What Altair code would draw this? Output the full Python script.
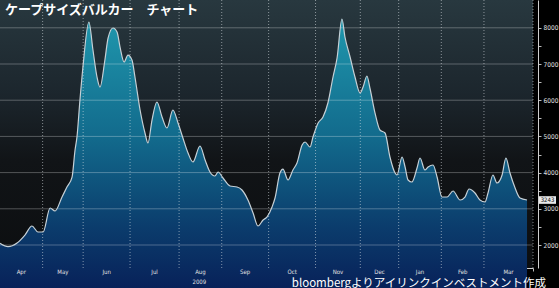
import altair as alt
import pandas as pd

# ---- data (trading-day index, value) ----
days = [0, 3.75, 8.0, 11.7, 15.0, 17.8, 20.2, 23.5, 25.8, 29.1, 31.4, 33.8, 35.2, 36.1,
        37.5, 38.9, 41.7, 43.6, 45.5, 46.9, 49.2, 50.7, 53.0, 54.9, 56.3, 58.2, 60.0,
        61.9, 63.3, 65.7, 68.0, 69.4, 71.3, 73.6, 76.0, 78.3, 81.1, 83.5, 85.8, 88.2,
        90.5, 93.8, 96.2, 98.5, 100.8, 102.3, 104.6, 107.9, 111.2, 113.5, 116.3, 118.7,
        121.0, 123.4, 125.2, 127.6, 129.0, 131.3, 132.7, 135.1, 137.4, 139.3, 141.7,
        143.1, 145.4, 146.8, 149.2, 151.5, 153.8, 156.2, 158.1, 160.4, 161.8, 164.2,
        166.5, 168.9, 170.3, 172.1, 173.5, 175.9, 178.2, 180.6, 182.9, 185.3, 186.2,
        188.6, 190.0, 191.4, 193.2, 195.6, 197.0, 199.3, 200.8, 203.1, 205.0, 207.3,
        209.7, 212.5, 215.8, 218.1, 220.0, 222.8, 225.1, 227.5, 228.9, 231.2, 233.1,
        235.5, 237.3, 239.2, 241.6, 243.9, 247.2]
values = [2047, 1953, 2055, 2276, 2525, 2359, 2359, 3022, 2939, 3326, 3602, 3878, 4624, 4983,
          6005, 6917, 8160, 7387, 6641, 6364, 7110, 7718, 7994, 7884, 7469, 7055, 7248,
          7110, 6641, 5729, 5094, 4818, 5453, 5950, 5536, 5232, 5729, 5370, 4956, 4541,
          4293, 4735, 4348, 4017, 3906, 4017, 3851, 3630, 3602, 3519, 3243, 2884,
          2525, 2691, 2773, 3050, 3298, 3989, 4099, 3796, 4072, 4265, 4762,
          4845, 4707, 4983, 5370, 5536, 5923, 6641, 7166, 8243, 7746, 7193,
          6641, 6199, 6364, 6668, 6337, 5646, 5177, 5094, 4431, 3989, 3934,
          4431, 4155, 3796, 3740, 4127, 4403, 4072, 4155, 4210, 3878, 3326,
          3326, 3492, 3243, 3326, 3547, 3436, 3243, 3188, 3436, 3934, 3713,
          3934, 4403, 3989, 3575, 3298, 3243]

months = ["Apr", "May", "Jun", "Jul", "Aug", "Sep", "Oct", "Nov", "Dec", "Jan", "Feb", "Mar"]
month_starts = [0, 20, 39, 61, 84, 104, 126, 148, 169, 187, 207, 227, 250]
y_ticks = [2000, 2500, 3000, 3500, 4000, 4500, 5000, 5500, 6000, 6500, 7000, 7500, 8000]
y_grid = [2000, 3000, 4000, 5000, 6000, 7000, 8000]
year_label = "2009"
title_text = "ケープサイズバルカー　チャート"
source_text = "bloombergよりアイリンクインベストメント作成"
last_value = values[-1]

W, H = 533, 268
X_DOMAIN = [0, 250]
Y_DOMAIN = [1365, 8768]

df = pd.DataFrame({"d": days, "v": values})
mdf = pd.DataFrame({"d": [(month_starts[i] + month_starts[i + 1]) / 2 for i in range(len(months))],
                    "m": months})
vdf = pd.DataFrame({"d": month_starts[1:]})
gdf = pd.DataFrame({"v": y_grid})
ydf = pd.DataFrame({"t": [year_label], "d": [month_starts[9] / 2]})
ldf = pd.DataFrame({"v": [last_value], "lab": [str(last_value)]})

LABEL_FONT = "Liberation Sans Narrow, DejaVu Sans Condensed, sans-serif"

xscale = alt.Scale(domain=X_DOMAIN, nice=False, zero=False)
yscale = alt.Scale(domain=Y_DOMAIN, nice=False, zero=False)

x_axis = alt.Axis(values=month_starts, labels=False, title=None, grid=False,
                  tickSize=3, tickColor="#bbbbbb", domainColor="#cfcfcf", domainWidth=1)
y_axis = alt.Axis(orient="right", values=y_ticks, title=None, grid=False, offset=5,
                  labelExpr="datum.value % 1000 === 0 ? datum.label : ''",
                  format="d",
                  tickSize=3, tickColor="#bbbbbb", domainColor="#cfcfcf",
                  labelColor="#e0e0e0", labelFontSize=6.5, labelFont=LABEL_FONT,
                  labelPadding=2)

X = alt.X("d:Q", scale=xscale, axis=x_axis)
Y = alt.Y("v:Q", scale=yscale, axis=y_axis)

bg_grad = alt.Gradient(gradient="linear", x1=0, x2=0, y1=0, y2=1,
                       stops=[alt.GradientStop(color="#28383f", offset=0),
                              alt.GradientStop(color="#1c262d", offset=0.35),
                              alt.GradientStop(color="#111417", offset=0.6),
                              alt.GradientStop(color="#0c0e10", offset=1)])
area_grad = alt.Gradient(gradient="linear", x1=0, x2=0, y1=0, y2=1,
                         stops=[alt.GradientStop(color="#1f97ad", offset=0),
                                alt.GradientStop(color="#126a8c", offset=0.4),
                                alt.GradientStop(color="#0b3c6c", offset=0.7),
                                alt.GradientStop(color="#061450", offset=1)])

bg = alt.Chart(pd.DataFrame({"k": [0]})).mark_rect(fill=bg_grad).encode(
    x=alt.value(0), x2=alt.value(W), y=alt.value(0), y2=alt.value(H))

base = alt.Chart(df)
area = base.mark_area(interpolate="monotone", fill=area_grad).encode(
    x=X, y=Y, y2=alt.value(H))

hgrid = alt.Chart(gdf).mark_rule(color="#ffffff", opacity=0.28, strokeWidth=1).encode(y=Y)
vgrid = alt.Chart(vdf).mark_rule(color="#e0e6ea", opacity=0.55, strokeWidth=1,
                                 strokeDash=[1, 2]).encode(x=X)

line = base.mark_line(interpolate="monotone", color="#c6d0d6", strokeWidth=1.2).encode(
    x=X, y=Y)

mlabels = alt.Chart(mdf).mark_text(color="#e0e0e0", fontSize=6, font=LABEL_FONT,
                                   baseline="middle").encode(
    x=X, y=alt.value(H + 3.5), text="m:N")
ylabel = alt.Chart(ydf).mark_text(color="#e0e0e0", fontSize=6, font=LABEL_FONT,
                                  baseline="middle").encode(
    x=X, y=alt.value(H + 14), text="t:N")

title = alt.Chart(pd.DataFrame({"t": [title_text]})).mark_text(
    color="#ffffff", fontSize=13, fontWeight="bold", font="Noto Sans CJK JP",
    align="left", baseline="middle").encode(
    x=alt.value(5), y=alt.value(10), text="t:N")
source = alt.Chart(pd.DataFrame({"t": [source_text]})).mark_text(
    color="#ffffff", fontSize=11.5, font="Noto Sans CJK JP",
    align="right", baseline="middle").encode(
    x=alt.value(546), y=alt.value(H + 15.5), text="t:N")

lbox = alt.Chart(ldf).mark_point(shape="M-1,-0.45H1V0.45H-1Z", filled=True,
                                 color="#e8e8e8", opacity=1, size=289).encode(
    x=alt.value(547.5), y=Y)
ltext = alt.Chart(ldf).mark_text(color="#111111", fontSize=6, font=LABEL_FONT,
                                 baseline="middle").encode(
    x=alt.value(547.5), y=Y, text="lab:N")

chart = alt.layer(bg, area, hgrid, vgrid, line, mlabels, ylabel, title, source,
                  lbox, ltext).properties(
    width=W, height=H,
    autosize=alt.AutoSizeParams(type="none"),
    padding={"left": 0, "top": 0, "right": 26, "bottom": 20},
    background="#000000",
).configure_view(stroke=None)

chart.save("out.html", embed_options={"renderer": "svg", "actions": False})
